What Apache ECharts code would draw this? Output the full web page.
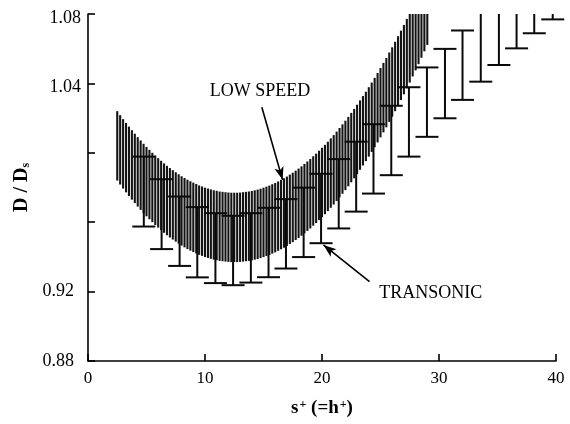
<!DOCTYPE html>
<html>
<head>
<meta charset="utf-8">
<script src="https://cdn.jsdelivr.net/npm/echarts@6/dist/echarts.min.js"></script>
<style>html,body{margin:0;padding:0;background:#fff;}#c{width:570px;height:424px;}</style>
</head>
<body>
<div id="c"></div>
<script>
// ---- data ----
const lowSpeedX = [2.5,2.75,3.0,3.25,3.5,3.75,4.0,4.25,4.5,4.75,5.0,5.25,5.5,5.75,6.0,6.25,6.5,6.75,7.0,7.25,7.5,7.75,8.0,8.25,8.5,8.75,9.0,9.25,9.5,9.75,10.0,10.25,10.5,10.75,11.0,11.25,11.5,11.75,12.0,12.25,12.5,12.75,13.0,13.25,13.5,13.75,14.0,14.25,14.5,14.75,15.0,15.25,15.5,15.75,16.0,16.25,16.5,16.75,17.0,17.25,17.5,17.75,18.0,18.25,18.5,18.75,19.0,19.25,19.5,19.75,20.0,20.25,20.5,20.75,21.0,21.25,21.5,21.75,22.0,22.25,22.5,22.75,23.0,23.25,23.5,23.75,24.0,24.25,24.5,24.75,25.0,25.25,25.5,25.75,26.0,26.25,26.5,26.75,27.0,27.25,27.5,27.75,28.0,28.25,28.5,28.75,29.0];
const lowSpeedLow = [0.9840,0.9817,0.9794,0.9772,0.9751,0.9730,0.9710,0.9690,0.9671,0.9652,0.9634,0.9617,0.9600,0.9584,0.9569,0.9554,0.9539,0.9525,0.9512,0.9500,0.9488,0.9476,0.9465,0.9455,0.9445,0.9436,0.9428,0.9420,0.9412,0.9406,0.9399,0.9394,0.9389,0.9384,0.9381,0.9377,0.9375,0.9373,0.9371,0.9370,0.9370,0.9370,0.9371,0.9373,0.9375,0.9377,0.9380,0.9384,0.9388,0.9393,0.9399,0.9405,0.9411,0.9419,0.9426,0.9435,0.9444,0.9453,0.9463,0.9474,0.9485,0.9497,0.9509,0.9522,0.9536,0.9550,0.9564,0.9580,0.9595,0.9612,0.9629,0.9646,0.9664,0.9683,0.9702,0.9722,0.9743,0.9764,0.9785,0.9807,0.9830,0.9853,0.9877,0.9902,0.9927,0.9952,0.9978,1.0005,1.0032,1.0060,1.0089,1.0118,1.0147,1.0178,1.0208,1.0240,1.0272,1.0304,1.0337,1.0371,1.0405,1.0440,1.0475,1.0511,1.0548,1.0585,1.0622];
const lowSpeedHigh = [1.0240,1.0217,1.0194,1.0172,1.0151,1.0130,1.0110,1.0090,1.0071,1.0052,1.0034,1.0017,1.0000,0.9984,0.9969,0.9954,0.9939,0.9925,0.9912,0.9900,0.9888,0.9876,0.9865,0.9855,0.9845,0.9836,0.9828,0.9820,0.9812,0.9806,0.9799,0.9794,0.9789,0.9784,0.9781,0.9777,0.9775,0.9773,0.9771,0.9770,0.9770,0.9770,0.9771,0.9773,0.9775,0.9777,0.9780,0.9784,0.9788,0.9793,0.9799,0.9805,0.9811,0.9819,0.9826,0.9835,0.9844,0.9853,0.9863,0.9874,0.9885,0.9897,0.9909,0.9922,0.9936,0.9950,0.9964,0.9980,0.9995,1.0012,1.0029,1.0046,1.0064,1.0083,1.0102,1.0122,1.0143,1.0164,1.0185,1.0207,1.0230,1.0253,1.0277,1.0302,1.0327,1.0352,1.0378,1.0405,1.0432,1.0460,1.0489,1.0518,1.0547,1.0578,1.0608,1.0640,1.0672,1.0704,1.0737,1.0771,1.0805,1.0840,1.0875,1.0911,1.0948,1.0985,1.1022];

const transonicX = [4.77,6.29,7.83,9.34,10.89,12.40,13.92,15.43,16.92,18.43,19.92,21.43,22.92,24.40,25.92,27.43,28.97,30.51,32.01,33.57,35.12,36.63,38.14,39.72];
const transonicLow = [0.9575,0.9445,0.9348,0.9282,0.9249,0.9237,0.9252,0.9283,0.9333,0.9399,0.9479,0.9564,0.9661,0.9765,0.9871,0.9978,1.0092,1.0199,1.0305,1.0410,1.0506,1.0602,1.0689,1.0769];
const transonicHigh = [0.9978,0.9848,0.9748,0.9687,0.9652,0.9637,0.9652,0.9683,0.9733,0.9799,0.9879,0.9964,1.0064,1.0165,1.0271,1.0378,1.0492,1.0599,1.0705,1.0810,1.0906,1.1002,1.1089,1.1169];

const xTickLabels = ['0','10','20','30','40'];
const yTickLabels = ['0.88','0.92','1.04','1.08'];

const annotationText = ['LOW SPEED', 'TRANSONIC'];
const annotationAt = [[14.70, 1.0352], [29.29, 0.9193]];
const arrowFrom = [[14.86, 1.0263], [24.06, 0.9258]];
const arrowTo = [[16.63, 0.9844], [20.12, 0.9469]];

// ---- chart ----
const SERIF = '"Liberation Serif", "DejaVu Serif", serif';
const chart = echarts.init(document.getElementById('c'), null, {renderer: 'canvas'});

function renderBand(params, api) {
  const x = api.value(0);
  const p1 = api.coord([x, api.value(1)]);
  const p2 = api.coord([x, api.value(2)]);
  const top = params.coordSys.y;
  return {
    type: 'line',
    shape: {x1: p1[0], y1: p1[1], x2: p1[0], y2: Math.max(p2[1], top)},
    style: {stroke: '#141414', lineWidth: 2.1}
  };
}

function renderErr(params, api) {
  const x = api.value(0);
  const p1 = api.coord([x, api.value(1)]);
  const p2 = api.coord([x, api.value(2)]);
  const top = params.coordSys.y;
  const hw = 11.5;
  const st = {stroke: '#0a0a0a', lineWidth: 2};
  const children = [
    {type: 'line', shape: {x1: p1[0], y1: p1[1], x2: p1[0], y2: Math.max(p2[1], top)}, style: st},
    {type: 'line', shape: {x1: p1[0] - hw, y1: p1[1], x2: p1[0] + hw, y2: p1[1]}, style: st}
  ];
  if (p2[1] >= top) {
    children.push({type: 'line', shape: {x1: p1[0] - hw, y1: p2[1], x2: p1[0] + hw, y2: p2[1]}, style: st});
  }
  return {type: 'group', children: children};
}

const option = {
  backgroundColor: '#fff',
  animation: false,
  grid: {left: 88, right: 14, top: 14, bottom: 63},
  xAxis: {
    type: 'value', min: 0, max: 40, interval: 10,
    axisLine: {show: true, lineStyle: {color: '#000', width: 1.6}},
    axisTick: {show: true, inside: true, length: 7, lineStyle: {color: '#000', width: 1.6}},
    splitLine: {show: false},
    axisLabel: {
      color: '#000', fontFamily: SERIF, fontSize: 17, margin: 9,
      formatter: v => xTickLabels.indexOf(String(v)) >= 0 ? String(v) : ''
    },
    name: '{b|s}{sup|+}{b| (=h}{sup|+}{b|)}',
    nameLocation: 'middle', nameGap: 38,
    nameTextStyle: {
      rich: {
        b: {fontFamily: SERIF, fontWeight: 'bold', fontSize: 19, color: '#000'},
        sup: {fontFamily: SERIF, fontWeight: 'bold', fontSize: 12, color: '#000', verticalAlign: 'top', padding: [0, 0, 0, 1]}
      }
    }
  },
  yAxis: {
    type: 'value', min: 0.88, max: 1.08, interval: 0.04,
    axisLine: {show: true, lineStyle: {color: '#000', width: 1.6}},
    axisTick: {show: true, inside: true, length: 7, lineStyle: {color: '#000', width: 1.6}},
    splitLine: {show: false},
    axisLabel: {
      color: '#000', fontFamily: SERIF, fontSize: 18, margin: 7,
      formatter: v => {
        const s = v.toFixed(2);
        if (yTickLabels.indexOf(s) < 0) return '';
        return v < 1 ? '{lo|' + s + '}' : '{hi|' + s + '}';
      },
      rich: {
        lo: {fontFamily: SERIF, fontSize: 18, color: '#000', padding: [0, 7, 0, 0]},
        hi: {fontFamily: SERIF, fontSize: 18, color: '#000', padding: [8, 0, 0, 0]}
      }
    },
    name: '{b|D / D}{sub|s}',
    nameLocation: 'middle', nameGap: 50, nameRotate: 90,
    nameTextStyle: {
      rich: {
        b: {fontFamily: SERIF, fontWeight: 'bold', fontSize: 20, color: '#000'},
        sub: {fontFamily: SERIF, fontWeight: 'bold', fontSize: 12, color: '#000', verticalAlign: 'bottom'}
      }
    }
  },
  series: [
    {
      name: 'LOW SPEED', type: 'custom', clip: false,
      renderItem: renderBand,
      encode: {x: 0, y: [1, 2]},
      data: lowSpeedX.map((x, i) => [x, lowSpeedLow[i], lowSpeedHigh[i]]),
      z: 2
    },
    {
      name: 'TRANSONIC', type: 'custom', clip: false,
      renderItem: renderErr,
      encode: {x: 0, y: [1, 2]},
      data: transonicX.map((x, i) => [x, transonicLow[i], transonicHigh[i]]),
      z: 3
    },
    {
      name: 'annotations', type: 'line', data: [], z: 5,
      markLine: {
        silent: true,
        symbol: ['none', 'arrow'], symbolSize: [7, 13],
        label: {show: false},
        lineStyle: {color: '#000', width: 1.6, type: 'solid'},
        data: arrowFrom.map((f, i) => [{coord: f}, {coord: arrowTo[i]}])
      },
      markPoint: {
        silent: true,
        symbol: 'circle', symbolSize: 1,
        itemStyle: {color: 'rgba(0,0,0,0)'},
        label: {show: true, position: 'inside', color: '#000', fontFamily: SERIF, fontSize: 18},
        data: annotationText.map((t, i) => ({coord: annotationAt[i], label: {formatter: t}}))
      }
    }
  ]
};
chart.setOption(option);
</script>
</body>
</html>
